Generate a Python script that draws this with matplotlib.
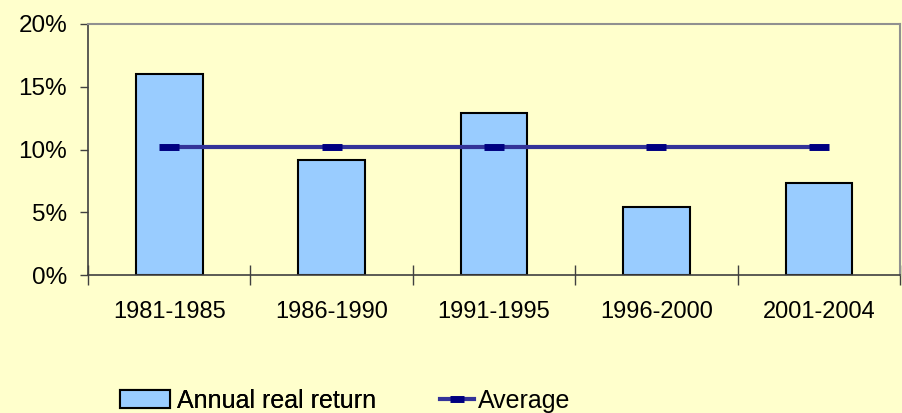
import numpy as np
import matplotlib.pyplot as plt
from matplotlib.lines import Line2D
from matplotlib.patches import Patch

periods = ["1981-1985", "1986-1990", "1991-1995", "1996-2000", "2001-2004"]
annual_real_return = [16.0, 9.2, 12.9, 5.4, 7.3]
average = [10.2, 10.2, 10.2, 10.2, 10.2]

plt.rcParams['font.family'] = ['Liberation Sans', 'DejaVu Sans']

bg = '#FFFFCC'
fig = plt.figure(figsize=(9.02, 4.13), dpi=100, facecolor=bg)
ax = fig.add_axes([0.0976, 0.334, 0.9002, 0.608], facecolor=bg)

x = np.arange(len(periods))
ax.bar(x, annual_real_return, width=0.41, color='#99CCFF', edgecolor='black', linewidth=1.5, zorder=2)
ax.plot(x, average, color='#333399', linewidth=3, marker='_', markersize=14,
        markeredgewidth=5, markeredgecolor='#000080', zorder=3)

ax.set_xlim(-0.5, len(periods) - 0.5)
ax.set_ylim(0, 20)
ax.set_yticks([0, 5, 10, 15, 20])
ax.set_yticklabels(['0%', '5%', '10%', '15%', '20%'])
ax.set_xticks(x)
ax.set_xticklabels(periods)
ax.set_xticks(np.arange(-0.5, len(periods)), minor=True)

ax.tick_params(axis='y', direction='out', length=6, width=1, color='#404040',
               labelsize=17.5, pad=9)
ax.tick_params(axis='x', which='major', length=0, labelsize=17, pad=19)
ax.tick_params(axis='x', which='minor', direction='inout', length=14, width=1, color='#404040')

for side in ['left', 'bottom']:
    ax.spines[side].set_color('#404040')
    ax.spines[side].set_linewidth(1.2)
for side in ['top', 'right']:
    ax.spines[side].set_color('#909090')
    ax.spines[side].set_linewidth(1.5)

bar_handle = Patch(facecolor='#99CCFF', edgecolor='black', linewidth=1.5, label='Annual real return')
line_handle = Line2D([], [], color='#333399', linewidth=3, marker='_', markersize=10,
                     markeredgewidth=5, markeredgecolor='#000080', label='Average')

leg1 = fig.legend(handles=[bar_handle], loc='center left', bbox_to_anchor=(0.133, 0.03),
                  frameon=False, fontsize=18, handlelength=2.0, handleheight=0.7,
                  handletextpad=0.3, borderpad=0, borderaxespad=0)
fig.add_artist(leg1)
fig.legend(handles=[line_handle], loc='center left', bbox_to_anchor=(0.488, 0.03),
           frameon=False, fontsize=18, handlelength=1.35, handletextpad=0.15,
           borderpad=0, borderaxespad=0)

fig.savefig('out.png', dpi=100, facecolor=bg)
